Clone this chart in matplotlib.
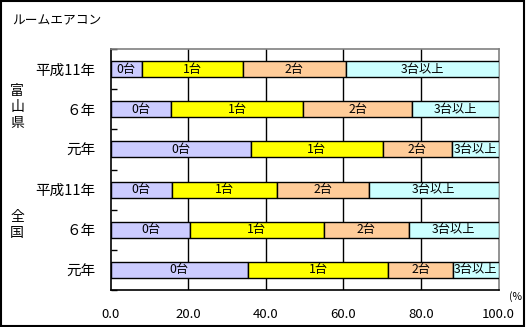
import matplotlib
matplotlib.use("Agg")
import matplotlib.pyplot as plt
from matplotlib.patches import Rectangle
from matplotlib.transforms import Bbox
import numpy as np

plt.rcParams['font.family'] = ['Noto Sans CJK JP', 'DejaVu Sans']

title = "ルームエアコン"
row_labels = ["平成11年", "６年", "元年", "平成11年", "６年", "元年"]
groups = ["富\n山\n県", "全\n国"]
segments = ["0台", "1台", "2台", "3台以上"]
colors = ["#CCCCFF", "#FFFF00", "#FFCC99", "#CCFFFF"]

# percentage shares per row (0台, 1台, 2台, 3台以上)
share_0 = [8.0, 15.5, 36.1, 15.7, 20.5, 35.4]
share_1 = [26.0, 34.2, 34.1, 27.3, 34.4, 36.1]
share_2 = [26.6, 28.0, 17.8, 23.6, 22.0, 16.8]
share_3 = [39.4, 22.3, 12.0, 33.4, 23.1, 11.7]
xticks = [0, 20, 40, 60, 80, 100]

W, H = 526, 327
fig = plt.figure(figsize=(W / 100, H / 100), dpi=100)
ax = fig.add_axes([110.7 / W, 37 / H, 387.8 / W, 241 / H])

data = np.array([share_0, share_1, share_2, share_3])
y = np.arange(len(row_labels))
left = np.zeros(len(row_labels))
for k, seg in enumerate(segments):
    vals = data[k]
    ax.barh(y, vals, left=left, height=0.4, color=colors[k],
            edgecolor="black", linewidth=1.0, zorder=3)
    for i in range(len(y)):
        ax.text(left[i] + vals[i] / 2, y[i], seg, ha="center", va="center",
                fontsize=8.8, zorder=4)
    left = left + vals

ax.set_xlim(0, 100)
ax.set_ylim(len(row_labels) - 0.5, -0.5)
ax.set_xticks(xticks)
ax.set_xticklabels([f"{v:.1f}" for v in xticks], fontsize=9.5)
ax.tick_params(axis="x", length=0, pad=13)
ax.set_yticks(y)
ax.set_yticklabels(row_labels, fontsize=10.5)
ax.tick_params(axis="y", which="major", length=0, pad=11)
ax.set_yticks(np.arange(-0.5, len(row_labels), 1.0), minor=True)
ax.tick_params(axis="y", which="minor", direction="in", length=4,
               width=1, color="black")

for xv in xticks[1:-1]:
    ax.axvline(xv, color="black", linewidth=1.0, zorder=1)

ax.spines["left"].set_color("black")
ax.spines["bottom"].set_color("black")
ax.spines["top"].set_color("#808080")
ax.spines["right"].set_color("#808080")
for s in ax.spines.values():
    s.set_linewidth(1.2)

fig.text(12 / W, 1 - 21 / H, title, fontsize=9.2, ha="left", va="center")
fig.text(17 / W, 1 - 107 / H, groups[0], fontsize=10, ha="center",
         va="center", linespacing=1.15)
fig.text(17 / W, 1 - 225 / H, groups[1], fontsize=10, ha="center",
         va="center", linespacing=1.15)

unit = fig.text(509 / W, 30.5 / H, "(%)", fontsize=7.5, ha="left", va="center")
unit.set_clip_box(Bbox.from_extents(0, 0, 522, H))
unit.set_clip_on(True)

fig.patches.append(Rectangle((1 / W, 1.3 / H), 522.7 / W, 324.7 / H,
                             transform=fig.transFigure, fill=False,
                             edgecolor="black", linewidth=1.5))

fig.savefig("out.png", dpi=100)
